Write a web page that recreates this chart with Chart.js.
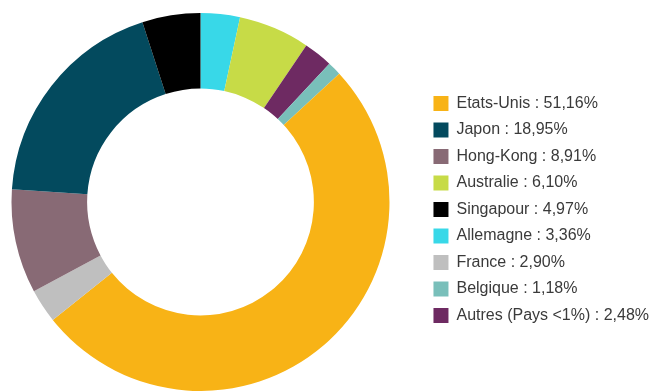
<!DOCTYPE html>
<html>
<head>
<meta charset="utf-8">
<script src="https://cdn.jsdelivr.net/npm/chart.js@4.4.1/dist/chart.umd.min.js"></script>
<style>
    html, body { margin: 0; padding: 0; background: #fff; }
    #wrap { width: 652px; height: 391px; }
</style>
</head>
<body>
<div id="wrap"><canvas id="pays"></canvas></div>
<script>
// Data (slice order = clockwise from 12 o'clock)
const pays = ['Allemagne', 'Australie', 'Autres (Pays <1%)', 'Belgique', 'Etats-Unis', 'France', 'Hong-Kong', 'Japon', 'Singapour'];
const parts = [3.36, 6.10, 2.48, 1.18, 51.16, 2.90, 8.91, 18.95, 4.97];
const couleurs = ['#38D8E8', '#C7DB47', '#6E2A62', '#79BFBA', '#F8B316', '#BFBFBF', '#886A75', '#034A5E', '#000000'];
// legend order
const ordreLegende = ['Etats-Unis', 'Japon', 'Hong-Kong', 'Australie', 'Singapour', 'Allemagne', 'France', 'Belgique', 'Autres (Pays <1%)'];

const baseLabels = Chart.overrides.doughnut.plugins.legend.labels.generateLabels;

// push the legend a bit to the right, leaves a gap after the ring
const decaleLegende = {
    id: 'decaleLegende',
    afterLayout(chart) {
        chart.legend.left += 22;
        chart.legend.right += 22;
    }
};

const ctx = document.getElementById('pays').getContext('2d');
new Chart(ctx, {
    type: 'doughnut',
    data: {
        labels: pays,
        datasets: [{
            data: parts,
            backgroundColor: couleurs,
            borderWidth: 0
        }]
    },
    options: {
        responsive: true,
        maintainAspectRatio: false,
        animation: false,
        cutout: '60%',
        layout: {
            padding: { top: 13, bottom: 0, left: 0, right: 15 }
        },
        plugins: {
            tooltip: { enabled: false },
            legend: {
                position: 'right',
                title: { display: true, text: '', padding: 0, font: { size: 15, lineHeight: 1 } },
                labels: {
                    boxWidth: 15,
                    boxHeight: 15,
                    padding: 10.5,
                    color: '#3a3a3a',
                    font: { family: "'Liberation Sans', Arial, sans-serif", size: 16 },
                    generateLabels: function (chart) {
                        return baseLabels(chart).map(item => {
                            item.text = pays[item.index] + ' : ' + parts[item.index].toFixed(2).replace('.', ',') + '%';
                            return item;
                        });
                    },
                    sort: function (a, b) {
                        return ordreLegende.indexOf(pays[a.index]) - ordreLegende.indexOf(pays[b.index]);
                    }
                }
            }
        }
    },
    plugins: [decaleLegende]
});
</script>
</body>
</html>
